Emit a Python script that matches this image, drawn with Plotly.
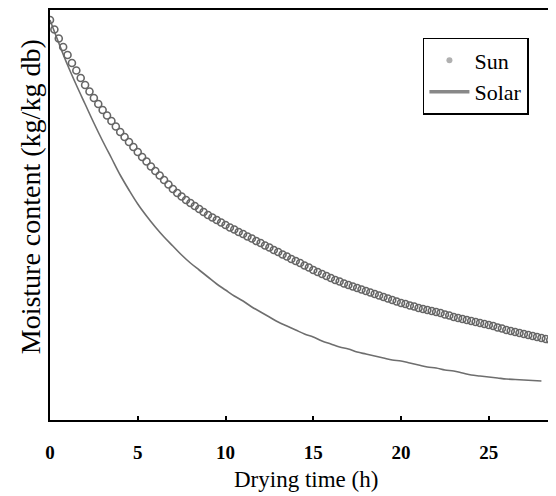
import numpy as np
import plotly.graph_objects as go

# Drying time grid (h)
sun_time = [i * 0.25 for i in range(115)]          # 0 .. 28.5 h
solar_time = [i * 0.5 for i in range(57)]          # 0 .. 28 h

# Moisture content (kg/kg db)
sun_mc = [
    4.000, 3.905, 3.815, 3.730, 3.650, 3.570, 3.495, 3.420, 3.350, 3.285,
    3.220, 3.160, 3.100, 3.045, 2.990, 2.935, 2.880, 2.830, 2.780, 2.730,
    2.680, 2.630, 2.585, 2.535, 2.490, 2.445, 2.400, 2.355, 2.310, 2.270,
    2.235, 2.200, 2.170, 2.140, 2.110, 2.080, 2.050, 2.025, 2.000, 1.975,
    1.950, 1.925, 1.905, 1.880, 1.860, 1.835, 1.815, 1.790, 1.770, 1.745,
    1.725, 1.700, 1.680, 1.655, 1.635, 1.610, 1.590, 1.570, 1.545, 1.525,
    1.500, 1.480, 1.460, 1.440, 1.420, 1.400, 1.385, 1.365, 1.350, 1.335,
    1.320, 1.305, 1.290, 1.275, 1.260, 1.245, 1.230, 1.215, 1.200, 1.185,
    1.170, 1.160, 1.145, 1.135, 1.120, 1.110, 1.100, 1.090, 1.080, 1.070,
    1.055, 1.045, 1.030, 1.020, 1.010, 1.000, 0.990, 0.980, 0.970, 0.960,
    0.950, 0.940, 0.925, 0.915, 0.900, 0.890, 0.880, 0.870, 0.860, 0.850,
    0.840, 0.830, 0.820, 0.810, 0.800,
]
solar_mc = [
    4.00, 3.77, 3.55, 3.35, 3.16, 2.97, 2.79, 2.62, 2.45, 2.30,
    2.16, 2.04, 1.93, 1.83, 1.74, 1.65, 1.57, 1.50, 1.43, 1.36,
    1.30, 1.24, 1.19, 1.13, 1.08, 1.03, 0.98, 0.94, 0.90, 0.86,
    0.83, 0.79, 0.76, 0.73, 0.71, 0.68, 0.66, 0.64, 0.62, 0.60,
    0.59, 0.57, 0.55, 0.53, 0.52, 0.50, 0.49, 0.47, 0.45, 0.44,
    0.43, 0.42, 0.41, 0.405, 0.40, 0.395, 0.39,
]
x_ticks = [0, 5, 10, 15, 20, 25]

fig = go.Figure()
fig.add_trace(go.Scatter(
    x=solar_time, y=solar_mc, mode="lines", name="Solar",
    line=dict(color="#6e6e6e", width=1.6, shape="spline"),
    showlegend=False,
))
fig.add_trace(go.Scatter(
    x=sun_time, y=sun_mc, mode="markers", name="Sun",
    marker=dict(symbol="circle-open", size=7, color="#666666",
                line=dict(width=1.6, color="#666666")),
    showlegend=False,
))
# legend entries
fig.add_trace(go.Scatter(
    x=[None], y=[None], mode="markers", name="Sun", legendgroup="a",
    marker=dict(symbol="circle", size=6, color="#b0b0b0"),
))
fig.add_trace(go.Scatter(
    x=[None], y=[None], mode="lines", name="Solar", legendgroup="b",
    line=dict(color="#888888", width=3.5),
))

serif = "Liberation Serif"
fig.update_layout(
    width=548, height=488,
    margin=dict(l=42, r=0, t=2, b=76),
    paper_bgcolor="white", plot_bgcolor="white",
    font=dict(family=serif, color="black"),
    legend=dict(
        x=0.737, y=0.932, xanchor="left", yanchor="top",
        bordercolor="black", borderwidth=1.5, bgcolor="white",
        font=dict(family=serif, size=22, color="black"),
        tracegroupgap=0, itemwidth=40,
    ),
    xaxis=dict(
        range=[0, 28.83], tickvals=x_ticks, ticktext=[str(v) for v in x_ticks],
        ticks="inside", ticklen=4, tickcolor="black", tickwidth=1.5,
        showline=True, linecolor="black", linewidth=1.5, mirror=True,
        showgrid=False, zeroline=False,
        tickfont=dict(family=serif, size=19, color="black", weight="bold"),
        ticklabelstandoff=14,
    ),
    yaxis=dict(
        range=[0, 4.1], showticklabels=False, ticks="",
        showline=True, linecolor="black", linewidth=1.5, mirror=False,
        showgrid=False, zeroline=False,
    ),
    annotations=[
        dict(text="Drying time (h)", xref="paper", yref="paper",
             x=0.506, y=-0.146, xanchor="center", yanchor="middle",
             showarrow=False, font=dict(family=serif, size=23, color="black")),
        dict(text="Moisture content (kg/kg db)", xref="paper", yref="paper",
             x=-0.037, y=0.544, xanchor="center", yanchor="middle",
             textangle=-90, showarrow=False,
             font=dict(family=serif, size=28, color="black")),
    ],
)
fig.write_html("out.html")
